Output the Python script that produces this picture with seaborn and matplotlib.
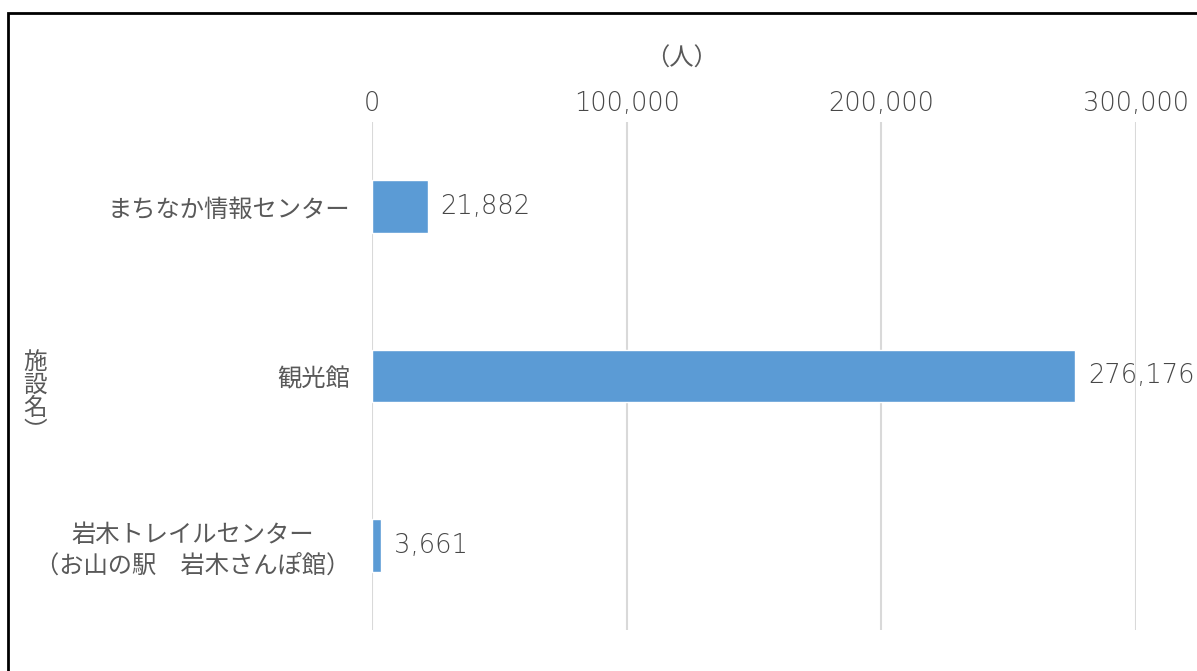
import matplotlib
matplotlib.use("Agg")
import matplotlib.pyplot as plt
import seaborn as sns
import pandas as pd
from matplotlib.ticker import FuncFormatter
from matplotlib.patches import Rectangle

# data
facilities = ["まちなか情報センター", "観光館", "岩木トレイルセンター\n（お山の駅　岩木さんぽ館）"]
visitors = [21882, 276176, 3661]
xticks = [0, 100000, 200000, 300000]

df = pd.DataFrame({"施設名": facilities, "人数": visitors})

sns.set_style("white")
plt.rcParams['font.family'] = ['Noto Sans CJK JP', 'DejaVu Sans']

GREY = '#595959'
NUM_GREY = '#474747'
W, H = 1197, 671
fig = plt.figure(figsize=(W / 100, H / 100), dpi=100)
ax = fig.add_axes([372 / W, 1 - 630 / H, (1136 - 372) / W, (630 - 122) / H])

sns.barplot(data=df, x="人数", y="施設名", orient="h", color="#5B9BD5",
            saturation=1, width=0.31, ax=ax)

ax.set_xlim(0, 300000)
ax.set_ylim(2.5, -0.5)
ax.set_xticks(xticks)
ax.xaxis.set_major_formatter(FuncFormatter(lambda v, p: f"{int(v):,}"))
ax.xaxis.tick_top()
ax.tick_params(axis='x', length=0, pad=4, labelcolor=NUM_GREY)
ax.tick_params(axis='y', length=0, pad=16, labelsize=17.5, labelcolor=GREY)
for lbl in ax.get_xticklabels():
    lbl.set_family('DejaVu Sans')
    lbl.set_fontsize(18.5)
    lbl.set_fontweight('light')
for lbl in ax.get_yticklabels():
    lbl.set_multialignment('center')
ax.grid(axis='x', color='#D9D9D9', lw=1.5)
ax.grid(axis='y', visible=False)
ax.set_axisbelow(True)
for s in ax.spines.values():
    s.set_visible(False)
ax.set_xlabel("")
ax.set_ylabel("")

ax.bar_label(ax.containers[0], labels=[f"{v:,}" for v in visitors],
             padding=9, fontsize=18.5, color=NUM_GREY, family='DejaVu Sans',
             fontweight='light')

fig.text(682 / W, 1 - 59 / H, "（人）", ha='center', va='center',
         fontsize=17.5, color=GREY)
fig.text(35 / W, 1 - 397 / H, "施\n設\n名\n︶", ha='center', va='center',
         fontsize=17, color=GREY, linespacing=1.0)

# chart frame (right and bottom edges fall outside the picture)
fig.add_artist(Rectangle((8 / W, -1), 2, 2 - 13 / H, transform=fig.transFigure,
                         fill=False, edgecolor='black', lw=2))

fig.savefig("out.png", dpi=100)
